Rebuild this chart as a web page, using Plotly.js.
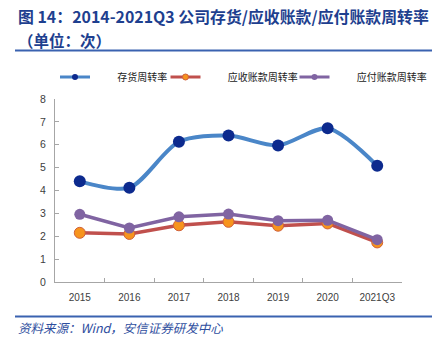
<!DOCTYPE html>
<html>
<head>
<meta charset="utf-8">
<script src="https://cdn.plot.ly/plotly-3.0.1.min.js"></script>
<style>html,body{margin:0;padding:0;background:#fff;}#chart{width:437px;height:342px;}</style>
</head>
<body>
<div id="chart"></div>
<script>
const categories = ["2015","2016","2017","2018","2019","2020","2021Q3"];
const inventoryTurnover = [4.40, 4.12, 6.13, 6.40, 5.97, 6.72, 5.08];
const receivableTurnover = [2.15, 2.10, 2.48, 2.63, 2.46, 2.56, 1.73];
const payableTurnover = [2.96, 2.36, 2.85, 2.97, 2.68, 2.70, 1.85];
const seriesNames = ["存货周转率","应收账款周转率","应付账款周转率"];
const yTicks = [0,1,2,3,4,5,6,7,8];

const W = 437, H = 342;
const L = 55, R = 402, T = 99, B = 282;
const px = x => (x - L) / (R - L);
const py = y => (B - y) / (B - T);
const pad = "\u3000\u3000\u00a0";
const cjk = '"Noto Sans CJK SC", "Noto Sans", sans-serif';

const styles = [
  {line: {color: "#4A86C8", width: 4, shape: "spline", smoothing: 0.8},
   marker: {color: "#0C2A8E", size: 12, line: {width: 0}},
   legLine: {color: "#4A86C8", width: 3}, legMarker: {color: "#0C2A8E", size: 6, line: {width: 0}}},
  {line: {color: "#C0504D", width: 3.5},
   marker: {color: "#F7941D", size: 11, line: {color: "#D0603A", width: 1}},
   legLine: {color: "#C0504D", width: 3}, legMarker: {color: "#F7941D", size: 6, line: {color: "#D0603A", width: 1}}},
  {line: {color: "#8064A2", width: 3.5},
   marker: {color: "#8064A2", size: 11, line: {width: 0}},
   legLine: {color: "#8064A2", width: 3}, legMarker: {color: "#8064A2", size: 6, line: {width: 0}}}
];
const seriesValues = [inventoryTurnover, receivableTurnover, payableTurnover];
const legendIds = ["legend", "legend2", "legend3"];

const traces = [];
seriesValues.forEach((vals, i) => {
  traces.push({x: categories, y: vals, name: seriesNames[i], type: "scatter", mode: "lines+markers",
    line: styles[i].line, marker: styles[i].marker, showlegend: false, hoverinfo: "skip"});
});
// legend-only entries (no data drawn)
seriesValues.forEach((vals, i) => {
  traces.push({x: [categories[0]], y: [null], name: pad + seriesNames[i], type: "scatter", mode: "lines+markers",
    line: styles[i].legLine, marker: styles[i].legMarker, showlegend: true, legend: legendIds[i], hoverinfo: "skip"});
});

const legendBase = {orientation: "h", xref: "container", yref: "container", xanchor: "left", yanchor: "middle",
  y: (H - 77) / H, font: {family: cjk, size: 10, color: "#222"}, bgcolor: "rgba(0,0,0,0)", borderwidth: 0};

const layout = {
  width: W, height: H,
  margin: {l: L, r: W - R, t: T, b: H - B, pad: 0},
  paper_bgcolor: "#fff", plot_bgcolor: "#fff",
  showlegend: true,
  legend: Object.assign({}, legendBase, {x: 55 / W}),
  legend2: Object.assign({}, legendBase, {x: 165.5 / W}),
  legend3: Object.assign({}, legendBase, {x: 294.5 / W}),
  xaxis: {type: "category", showgrid: false, showline: true, linecolor: "#A6A6A6", linewidth: 1,
    ticks: "inside", tickson: "boundaries", ticklen: 4, tickcolor: "#A6A6A6", tickangle: 0,
    tickfont: {family: '"Liberation Sans", sans-serif', size: 10, color: "#404040"}, zeroline: false,
    range: [-0.5, 6.5], fixedrange: true, ticklabelstandoff: 6},
  yaxis: {range: [0, 8], tickvals: yTicks, showgrid: false, showline: true, linecolor: "#A6A6A6", linewidth: 1,
    ticks: "inside", ticklen: 4, tickcolor: "#A6A6A6", zeroline: false, ticklabelstandoff: 6,
    tickfont: {family: '"Liberation Sans", sans-serif', size: 10.5, color: "#404040"}, fixedrange: true},
  shapes: [
    {type: "line", xref: "paper", yref: "paper", x0: px(15), x1: px(432), y0: py(50.5), y1: py(50.5),
     line: {color: "#3A62B0", width: 2}},
    {type: "line", xref: "paper", yref: "paper", x0: px(15), x1: px(432), y0: py(316.5), y1: py(316.5),
     line: {color: "#3A62B0", width: 2}}
  ],
  annotations: [
    {xref: "paper", yref: "paper", x: px(16), y: py(17), xanchor: "left", yanchor: "middle", showarrow: false,
     text: "<b>图 14：2014-2021Q3 公司存货/应收账款/应付账款周转率</b>",
     font: {family: cjk, size: 15.9, color: "#1E3F8F"}},
    {xref: "paper", yref: "paper", x: px(16), y: py(40), xanchor: "left", yanchor: "middle", showarrow: false,
     text: "<b>（单位：次）</b>",
     font: {family: cjk, size: 15.5, color: "#1E3F8F"}},
    {xref: "paper", yref: "paper", x: px(16), y: py(327), xanchor: "left", yanchor: "middle", showarrow: false,
     text: "<i>资料来源：Wind，安信证券研发中心</i>",
     font: {family: cjk, size: 12.5, color: "#2E4E9E"}}
  ]
};

Plotly.newPlot("chart", traces, layout, {staticPlot: true, displayModeBar: false});
</script>
</body>
</html>
